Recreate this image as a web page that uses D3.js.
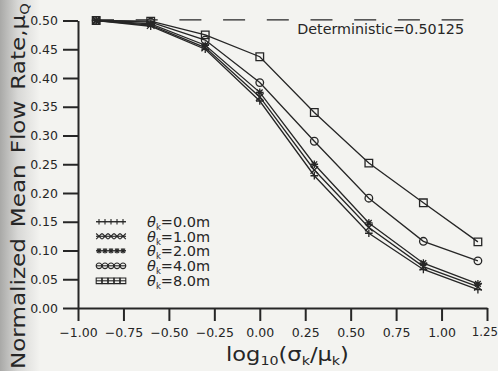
<!DOCTYPE html>
<html><head><meta charset="utf-8">
<script src="https://cdn.jsdelivr.net/npm/d3@7"></script>
<style>body{margin:0;background:#f3f3f0} svg{display:block}</style>
</head><body><svg id="c" width="498" height="371"></svg>
<script>
// ---- data ----
const xValues = [-0.9, -0.6, -0.3, 0.0, 0.3, 0.6, 0.9, 1.2];
const theta0 = [0.500, 0.490, 0.450, 0.360, 0.230, 0.130, 0.067, 0.032];
const theta1 = [0.500, 0.492, 0.453, 0.367, 0.240, 0.140, 0.072, 0.037];
const theta2 = [0.500, 0.494, 0.457, 0.375, 0.250, 0.148, 0.078, 0.042];
const theta4 = [0.500, 0.497, 0.466, 0.392, 0.290, 0.191, 0.116, 0.082];
const theta8 = [0.500, 0.499, 0.475, 0.437, 0.340, 0.252, 0.183, 0.115];
const seriesLabels = ["=0.0m", "=1.0m", "=2.0m", "=4.0m", "=8.0m"];
const seriesMarkers = ["plus", "x", "star", "circle", "square"];
const xTicks = [-1.0, -0.75, -0.5, -0.25, 0.0, 0.25, 0.5, 0.75, 1.0, 1.25];
const yTicks = [0.0, 0.05, 0.1, 0.15, 0.2, 0.25, 0.3, 0.35, 0.4, 0.45, 0.5];
const deterministic = 0.50125;
const detRange = [-0.923, 1.12];

const series = [theta0, theta1, theta2, theta4, theta8].map((v, i) => ({
  values: v, label: seriesLabels[i], marker: seriesMarkers[i]
}));

const ink = "#262626";
const FONT = "'DejaVu Sans', Verdana, sans-serif";
const svg = d3.select("#c");

// paper background with darker left edge (scan)
const defs = svg.append("defs");
const g0 = defs.append("linearGradient").attr("id", "edge").attr("x1", 0).attr("x2", 1);
g0.append("stop").attr("offset", "0%").attr("stop-color", "#a9a9a7");
g0.append("stop").attr("offset", "45%").attr("stop-color", "#d8d8d6");
g0.append("stop").attr("offset", "100%").attr("stop-color", "#f3f3f0");
svg.append("rect").attr("width", 498).attr("height", 371).attr("fill", "#f3f3f0");
svg.append("rect").attr("width", 40).attr("height", 371).attr("fill", "url(#edge)");

const x = d3.scaleLinear().domain([-1.0, 1.25]).range([78, 487]);
const y = d3.scaleLinear().domain([0, 0.5]).range([308, 20.5]);

// axes
const fmt = d3.format(".2f");
const xAxis = svg.append("g").attr("transform", "translate(0,308)")
  .call(d3.axisBottom(x).tickValues(xTicks).tickFormat(fmt).tickSize(13).tickSizeOuter(0).tickPadding(7));
const yAxis = svg.append("g").attr("transform", "translate(78,0)")
  .call(d3.axisLeft(y).tickValues(yTicks).tickFormat(fmt).tickSize(15).tickSizeOuter(0).tickPadding(5));
[xAxis, yAxis].forEach(a => {
  a.selectAll("path,line").attr("stroke", ink).attr("stroke-width", 2);
  a.selectAll("text").attr("fill", ink).style("font-family", FONT).style("font-size", "12.5px");
});
// keep the last x label inside the picture
xAxis.selectAll(".tick text").filter(d => d === 1.25)
  .style("font-size", "11.8px").attr("dx", -2.5);

// deterministic dashed line
svg.append("line")
  .attr("x1", x(detRange[0])).attr("x2", x(detRange[1]))
  .attr("y1", y(deterministic)).attr("y2", y(deterministic))
  .attr("stroke", ink).attr("stroke-width", 1.3).attr("stroke-dasharray", "22,21.7");
svg.append("text").attr("x", 464).attr("y", 34).attr("text-anchor", "end")
  .attr("fill", ink).style("font-family", FONT).style("font-size", "14.3px")
  .text("Deterministic=" + deterministic.toFixed(5));

// marker paths
function markerPath(type, s) {
  switch (type) {
    case "plus": return `M${-s},0H${s}M0,${-s}V${s}`;
    case "x": return `M${-s},${-s}L${s},${s}M${-s},${s}L${s},${-s}`;
    case "star": return `M${-s},0H${s}M0,${-s}V${s}M${-s*0.75},${-s*0.75}L${s*0.75},${s*0.75}M${-s*0.75},${s*0.75}L${s*0.75},${-s*0.75}`;
    case "circle": return `M${s},0A${s},${s} 0 1,1 ${-s},0A${s},${s} 0 1,1 ${s},0Z`;
    case "square": return `M${-s},${-s}H${s}V${s}H${-s}Z`;
  }
}

const line = d3.line().x((d, i) => x(xValues[i])).y(d => y(d));
const plot = svg.append("g");
series.forEach(s => {
  plot.append("path").datum(s.values).attr("d", line)
    .attr("fill", "none").attr("stroke", ink).attr("stroke-width", 1.3);
});
series.forEach(s => {
  plot.append("g").selectAll("path").data(s.values).join("path")
    .attr("transform", (d, i) => `translate(${x(xValues[i])},${y(d)})`)
    .attr("d", markerPath(s.marker, 3.8))
    .attr("fill", "none").attr("stroke", ink).attr("stroke-width", 1.3);
});

// legend
const legendY = [221.7, 236.3, 250.8, 265.8, 280.8];
const legendX = [99, 105, 111, 117, 123];
series.forEach((s, i) => {
  const g = svg.append("g").attr("transform", `translate(0,${legendY[i]})`);
  g.append("line").attr("x1", 96).attr("x2", 126).attr("stroke", ink).attr("stroke-width", 1.1);
  g.selectAll("path").data(legendX).join("path")
    .attr("transform", d => `translate(${d},0)`)
    .attr("d", markerPath(s.marker, 2.8))
    .attr("fill", "none").attr("stroke", ink).attr("stroke-width", 1.1);
  const t = g.append("text").attr("x", 147).attr("y", 5.5).attr("fill", ink)
    .style("font-family", FONT).style("font-size", "14.5px");
  t.append("tspan").style("font-style", "italic").text("θ");
  t.append("tspan").attr("dy", 3).style("font-size", "8.5px").text("k");
  t.append("tspan").attr("dy", -3).text(s.label);
});

// helper: stretch horizontally to target width
function fit(g, target) {
  const w = g.node().getBBox().width;
  return target / w;
}

// x-axis title
const xt = svg.append("g");
const xtt = xt.append("text").attr("x", 0).attr("y", 0).attr("fill", ink)
  .style("font-family", FONT).style("font-size", "19px");
xtt.append("tspan").text("log");
xtt.append("tspan").attr("dy", 4).style("font-size", "12px").text("10");
xtt.append("tspan").attr("dy", -4).text("(σ");
xtt.append("tspan").attr("dy", 4).style("font-size", "12px").text("k");
xtt.append("tspan").attr("dy", -4).text("/μ");
xtt.append("tspan").attr("dy", 4).style("font-size", "12px").text("k");
xtt.append("tspan").attr("dy", -4).text(")");
const sx = fit(xtt, 123);
xt.attr("transform", `translate(226,361) scale(${sx},1)`);

// y-axis title
const yt = svg.append("g");
const ytt = yt.append("text").attr("x", 0).attr("y", 0).attr("fill", ink)
  .style("font-family", FONT).style("font-size", "19px").style("word-spacing", "3px");
ytt.append("tspan").text("Normalized Mean Flow Rate,μ");
ytt.append("tspan").attr("dy", 4).style("font-size", "12px").text("Q");
const sy = fit(ytt, 366);
yt.attr("transform", `translate(25,369) rotate(-90) scale(${sy},1)`);
</script>
</body></html>
